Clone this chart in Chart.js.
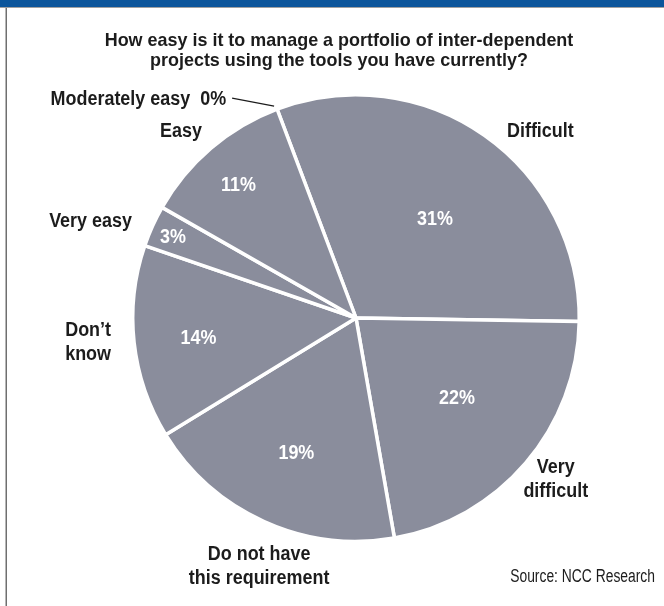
<!DOCTYPE html>
<html>
<head>
<meta charset="utf-8">
<script src="https://cdn.jsdelivr.net/npm/chart.js@4"></script>
<style>
  html, body { margin: 0; padding: 0; background: #ffffff; }
  #wrap { position: relative; width: 664px; height: 606px; }
  canvas { display: block; }
</style>
</head>
<body>
<div id="wrap"><canvas id="pie" width="664" height="606"></canvas></div>
<script>
// Survey answers, clockwise from the top-right slice
const categories = ["Difficult", "Very difficult", "Do not have this requirement", "Don’t know", "Very easy", "Easy", "Moderately easy"];
const shares = [31, 22, 19, 14, 3, 11, 0];
const labelLines = [["Difficult"], ["Very", "difficult"], ["Do not have", "this requirement"], ["Don’t", "know"], ["Very easy"], ["Easy"], ["Moderately easy  0%"]];
const titleLines = ["How easy is it to manage a portfolio of inter-dependent", "projects using the tools you have currently?"];
const sourceText = "Source: NCC Research";

// Placement of the texts relative to each slice (kept apart from the data)
const pctPlace = [
  { f: 0.56, dx: 7, dy: 4 },
  { f: 0.577, dx: 3, dy: -3 },
  { f: 0.66, dx: 1, dy: 1 },
  { f: 0.71, dx: 0, dy: 3 },
  { f: 0.895, dx: -1, dy: 2 },
  { f: 0.79, dx: -3, dy: 2 },
  null
];
const namePlace = [
  { dx: 56, dy: -4 },
  { dx: 30, dy: 17 },
  { dx: -5, dy: 45 },
  { dx: -46, dy: 0 },
  { dx: -62, dy: -5 },
  { dx: -30, dy: -17 },
  null
];

const FAMILY = "'Liberation Sans', Arial, sans-serif";
// narrow, tall lettering: a larger face squeezed horizontally
const LABEL_FONT = { font: "bold 19.5px " + FAMILY, sx: 0.92 };
const TITLE_FONT = { font: "bold 18.5px " + FAMILY, sx: 0.97 };
const NOTE_FONT = { font: "18px " + FAMILY, sx: 0.77 };
const INK = "#1c1c1c";

function drawText(ctx, text, x, y, spec, align) {
  ctx.save();
  ctx.font = spec.font;
  ctx.textAlign = align || "center";
  ctx.textBaseline = "middle";
  ctx.translate(x, y);
  ctx.scale(spec.sx, 1);
  ctx.fillText(text, 0, 0);
  ctx.restore();
}

function pointAt(arc, angle, r) {
  return { x: arc.x + Math.cos(angle) * r, y: arc.y + Math.sin(angle) * r };
}

const decorations = {
  id: "decorations",
  beforeDraw(chart) {
    const ctx = chart.ctx;
    ctx.save();
    ctx.fillStyle = "#ffffff";
    ctx.fillRect(0, 0, chart.width, chart.height);
    // top band and left rule
    ctx.fillStyle = "#0b559b";
    ctx.fillRect(0, 0, chart.width, 7);
    ctx.fillStyle = "#a0a0a0";
    ctx.fillRect(0, 7, chart.width, 1);
    ctx.fillStyle = "#6f6f6f";
    ctx.fillRect(5.5, 8, 1.5, chart.height - 8);
    // title
    ctx.fillStyle = INK;
    titleLines.forEach((t, i) => drawText(ctx, t, 339, 41 + i * 20, TITLE_FONT));
    ctx.restore();
  },
  afterDatasetsDraw(chart) {
    const ctx = chart.ctx;
    const meta = chart.getDatasetMeta(0);
    ctx.save();
    meta.data.forEach((arc, i) => {
      const p = arc.getProps(["x", "y", "startAngle", "endAngle", "outerRadius"], true);
      const mid = (p.startAngle + p.endAngle) / 2;
      const R = p.outerRadius;
      if (shares[i] > 0) {
        // share inside the slice
        const pp = pctPlace[i];
        const a = pointAt(p, mid, R * pp.f);
        ctx.fillStyle = "#ffffff";
        drawText(ctx, shares[i] + "%", a.x + pp.dx, a.y + pp.dy, LABEL_FONT);
        // category name outside
        const np = namePlace[i];
        const b = pointAt(p, mid, R);
        const lines = labelLines[i];
        ctx.fillStyle = INK;
        lines.forEach((t, k) => {
          drawText(ctx, t, b.x + np.dx, b.y + np.dy + (k - (lines.length - 1) / 2) * 24, LABEL_FONT);
        });
      } else {
        // empty slice: name with a leader line to the rim
        const e = pointAt(p, p.startAngle, R);
        ctx.strokeStyle = "#1c1c1c";
        ctx.lineWidth = 1.2;
        ctx.beginPath();
        ctx.moveTo(e.x - 3, e.y - 3);
        ctx.lineTo(e.x - 45, e.y - 11);
        ctx.stroke();
        ctx.fillStyle = INK;
        drawText(ctx, labelLines[i][0], e.x - 51, e.y - 10, LABEL_FONT, "right");
      }
    });
    // source note
    ctx.fillStyle = INK;
    drawText(ctx, sourceText, 655, 577, NOTE_FONT, "right");
    ctx.restore();
  }
};

new Chart(document.getElementById("pie"), {
  type: "pie",
  data: {
    labels: categories,
    datasets: [{
      data: shares,
      backgroundColor: "#8a8d9c",
      borderColor: "#ffffff",
      borderWidth: 3.5
    }]
  },
  options: {
    responsive: false,
    animation: false,
    rotation: -20.7,
    layout: { padding: { left: 131, right: 83, top: 93, bottom: 63 } },
    plugins: {
      legend: { display: false },
      title: { display: false },
      tooltip: { enabled: false }
    },
    events: []
  },
  plugins: [decorations]
});
</script>
</body>
</html>
